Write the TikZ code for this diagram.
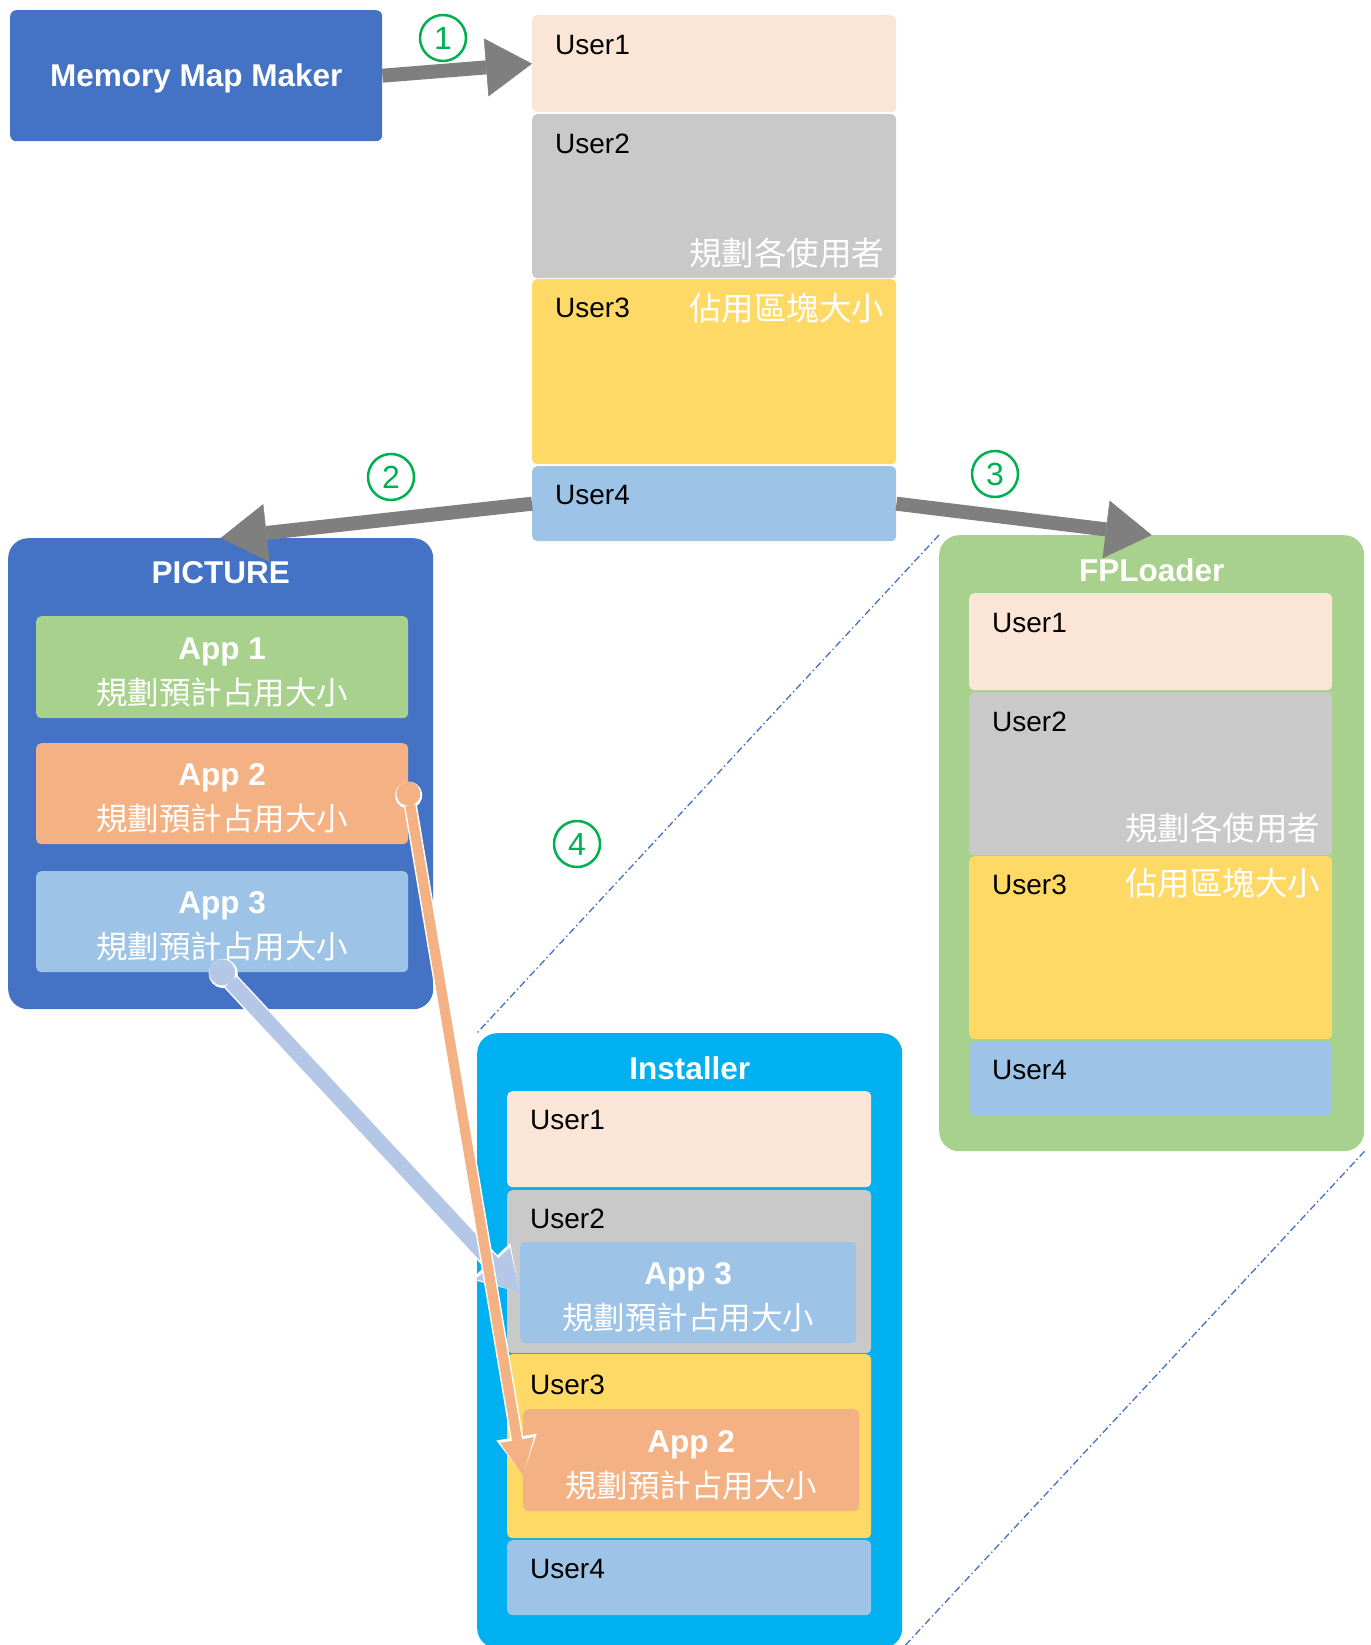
\documentclass[tikz,border=0pt]{standalone}
\usepackage{fontspec}
\setmainfont{Liberation Sans}
\newfontfamily\cjk{Noto Sans CJK TC}
\usetikzlibrary{arrows.meta,calc}

\definecolor{mapblue}{HTML}{4472C4}
\definecolor{upeach}{HTML}{FBE5D6}
\definecolor{ugray}{HTML}{C9C9C9}
\definecolor{uyellow}{HTML}{FFD966}
\definecolor{ublue}{HTML}{9DC3E6}
\definecolor{appgreen}{HTML}{A9D18E}
\definecolor{apporange}{HTML}{F4B183}
\definecolor{instcyan}{HTML}{00B0F0}
\definecolor{arrowgray}{HTML}{7F7F7F}
\definecolor{arrowblue}{HTML}{B4C7E7}
\definecolor{numgreen}{HTML}{00B050}

\tikzset{
  blk/.style={rectangle, rounded corners=5pt, anchor=north west, inner sep=0pt},
  box/.style={rectangle, rounded corners=20pt, anchor=north west, inner sep=0pt},
  utxt/.style={anchor=west, inner sep=0pt, font=\fontsize{28}{32}\selectfont},
  ttl/.style={inner sep=0pt, text=white, font=\bfseries\fontsize{31.5}{36}\selectfont},
  cjktxt/.style={anchor=east, inner sep=0pt, text=white, font=\cjk\fontsize{32.5}{36}\selectfont},
  app/.style={blk, text=white, align=center, text height=77pt, font=\fontsize{31.5}{45}\selectfont},
  num/.style={circle, draw=numgreen, line width=2.5pt, text=numgreen, minimum size=46pt, inner sep=0pt, font=\fontsize{32}{32}\selectfont},
  garrow/.style={draw=arrowgray, line width=14pt, -{Triangle[length=46pt, width=58pt, line width=0.5pt]}},
  oarrow/.style={draw=apporange, line width=10pt, preaction={draw=white, line width=13pt, {Circle[length=27pt]}-{Triangle[length=39pt, width=38pt]}}, {Circle[length=24pt, line width=0.5pt]}-{Triangle[length=36pt, width=34pt, line width=0.5pt]}},
  barrow/.style={draw=arrowblue, line width=15pt, preaction={draw=white, line width=18pt, {Circle[length=29pt]}-{Triangle[length=43pt, width=50pt]}}, {Circle[length=26pt, line width=0.5pt]}-{Triangle[length=40pt, width=46pt, line width=0.5pt]}},
  zoomline/.style={draw=mapblue, line width=1.3pt, dash pattern=on 7pt off 3pt on 1.5pt off 3pt}
}

\begin{document}
\begin{tikzpicture}[x=1pt, y=-1pt]
  %%%%% START %%%%%
  \useasboundingbox (0,0) rectangle (1370,1645);

  \node[box, rounded corners=6pt, fill=mapblue, minimum width=372pt, minimum height=131pt, text=white, text height=29pt, font=\bfseries\fontsize{31.5}{36}\selectfont] (mmm) at (10,10) {Memory Map Maker};

  % memory map
  \node[blk, fill=upeach, minimum width=364pt, minimum height=97pt] (mu1) at (532,15) {};
  \node[blk, fill=ugray, minimum width=364pt, minimum height=164pt] (mu2) at (532,114) {};
  \node[blk, fill=uyellow, minimum width=364pt, minimum height=185pt] (mu3) at (532,279) {};
  \node[blk, fill=ublue, minimum width=364pt, minimum height=75pt] (mu4) at (532,466) {};
  \node[utxt] (mu1t) at ([shift={(23,30)}]mu1.north west) {User1};
  \node[utxt] (mu2t) at ([shift={(23,30)}]mu2.north west) {User2};
  \node[utxt] (mu3t) at ([shift={(23,29)}]mu3.north west) {User3};
  \node[utxt] (mu4t) at ([shift={(23,29)}]mu4.north west) {User4};
  \node[cjktxt] (mu2c) at ([shift={(-12,-25)}]mu2.south east) {規劃各使用者};
  \node[cjktxt] (mu3c) at ([shift={(-12,29)}]mu3.north east) {佔用區塊大小};

  % PICTURE
  \node[box, fill=mapblue, minimum width=425pt, minimum height=471pt] (pic) at (8,538) {};
  \node[ttl] (pict) at ([shift={(0,35)}]pic.north) {PICTURE};
  \node[app, fill=appgreen, minimum width=372pt, minimum height=102pt] (p1) at (36,616) {{\bfseries App 1}\\{\cjk 規劃預計占用大小}};
  \node[app, fill=apporange, minimum width=372pt, minimum height=101pt] (p2) at (36,743) {{\bfseries App 2}\\{\cjk 規劃預計占用大小}};
  \node[app, fill=ublue, minimum width=372pt, minimum height=101pt] (p3) at (36,871) {{\bfseries App 3}\\{\cjk 規劃預計占用大小}};

  % FPLoader
  \node[box, fill=appgreen, minimum width=425pt, minimum height=616pt] (fpl) at (939,535) {};
  \node[ttl] (fplt) at ([shift={(0,35)}]fpl.north) {FPLoader};
  \node[blk, fill=upeach, minimum width=363pt, minimum height=97pt] (fu1) at (969,593) {};
  \node[blk, fill=ugray, minimum width=363pt, minimum height=163pt] (fu2) at (969,692) {};
  \node[blk, fill=uyellow, minimum width=363pt, minimum height=183pt] (fu3) at (969,856) {};
  \node[blk, fill=ublue, minimum width=363pt, minimum height=74pt] (fu4) at (969,1041) {};
  \node[utxt] (fu1t) at ([shift={(23,30)}]fu1.north west) {User1};
  \node[utxt] (fu2t) at ([shift={(23,30)}]fu2.north west) {User2};
  \node[utxt] (fu3t) at ([shift={(23,29)}]fu3.north west) {User3};
  \node[utxt] (fu4t) at ([shift={(23,29)}]fu4.north west) {User4};
  \node[cjktxt] (fu2c) at ([shift={(-12,-27)}]fu2.south east) {規劃各使用者};
  \node[cjktxt] (fu3c) at ([shift={(-12,27)}]fu3.north east) {佔用區塊大小};

  % Installer
  \node[box, fill=instcyan, minimum width=425pt, minimum height=615pt] (inst) at (477,1033) {};
  \node[ttl] (instt) at ([shift={(0,35)}]inst.north) {Installer};
  \node[blk, fill=upeach, minimum width=364pt, minimum height=96pt] (iu1) at (507,1091) {};
  \node[blk, fill=ugray, minimum width=364pt, minimum height=163pt] (iu2) at (507,1190) {};
  \node[blk, fill=uyellow, minimum width=364pt, minimum height=184pt] (iu3) at (507,1354) {};
  \node[blk, fill=ublue, minimum width=364pt, minimum height=75pt] (iu4) at (507,1540) {};
  \node[utxt] (iu1t) at ([shift={(23,29)}]iu1.north west) {User1};
  \node[utxt] (iu2t) at ([shift={(23,29)}]iu2.north west) {User2};
  \node[utxt] (iu3t) at ([shift={(23,31)}]iu3.north west) {User3};
  \node[utxt] (iu4t) at ([shift={(23,29)}]iu4.north west) {User4};
  \node[app, fill=ublue, minimum width=336pt, minimum height=101pt] (i3) at (520,1242) {{\bfseries App 3}\\{\cjk 規劃預計占用大小}};
  \node[app, fill=apporange, minimum width=336pt, minimum height=102pt] (i2) at (523,1409) {{\bfseries App 2}\\{\cjk 規劃預計占用大小}};

  % zoom lines
  \draw[zoomline] (fpl.north west) -- (inst.north west);
  \draw[zoomline] (fpl.south east) -- (inst.south east);

  % steps
  \draw[garrow] (mmm.east) -- (mu1.west);
  \draw[garrow] (mu4.west) -- (pic.north);
  \draw[garrow] (mu4.east) -- (fpl.north);
  \draw[barrow, shorten <=-13pt] (p3.south) -- (i3.west);
  \draw[oarrow, shorten <=-12pt] (p2.east) -- ($(i2.north west)!0.65!(i2.south west)$);

  \node[num] (n1) at (443,38) {1};
  \node[num] (n2) at (391,477) {2};
  \node[num] (n3) at (995,474) {3};
  \node[num] (n4) at (577,844) {4};

  %%%%% END %%%%%
\end{tikzpicture}
\end{document}
